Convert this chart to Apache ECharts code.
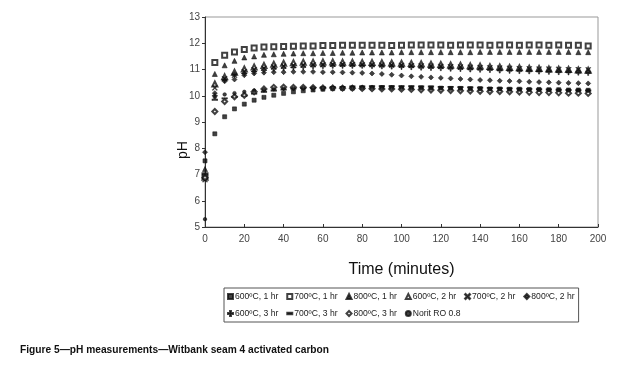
<!DOCTYPE html>
<html>
<head>
<meta charset="utf-8">
<script src="https://cdn.jsdelivr.net/npm/echarts@6/dist/echarts.min.js"></script>
<style>
  html, body { margin: 0; padding: 0; background: #fff; }
  #chart { width: 625px; height: 373px; }
</style>
</head>
<body>
<div id="chart"></div>
<script>
  // time points (minutes)
  var times = [0, 5, 10, 15, 20, 25, 30, 35, 40, 45, 50, 55, 60, 65, 70, 75, 80, 85, 90, 95,
    100, 105, 110, 115, 120, 125, 130, 135, 140, 145, 150, 155, 160, 165, 170, 175, 180, 185, 190, 195];

  var yTicks = [5, 6, 7, 8, 9, 10, 11, 12, 13];
  var xTicks = [0, 20, 40, 60, 80, 100, 120, 140, 160, 180, 200];

  var names = ['600ºC, 1 hr', '700ºC, 1 hr', '800ºC, 1 hr', '600ºC, 2 hr', '700ºC, 2 hr',
    '800ºC, 2 hr', '600ºC, 3 hr', '700ºC, 3 hr', '800ºC, 3 hr', 'Norit RO 0.8'];

  var c600h1 = [7.52, 8.55, 9.2, 9.5, 9.68, 9.83, 9.94, 10.02, 10.09, 10.15, 10.19, 10.22, 10.25, 10.27, 10.28, 10.29, 10.3, 10.3, 10.31, 10.31,
    10.3, 10.3, 10.3, 10.29, 10.29, 10.28, 10.28, 10.27, 10.27, 10.26, 10.26, 10.25, 10.25, 10.24, 10.24, 10.23, 10.23, 10.22, 10.22, 10.21];
  var c700h1 = [6.95, 11.27, 11.54, 11.67, 11.76, 11.82, 11.86, 11.87, 11.88, 11.89, 11.9, 11.9, 11.91, 11.91, 11.92, 11.92, 11.92, 11.92, 11.92, 11.91,
    11.92, 11.93, 11.93, 11.93, 11.93, 11.92, 11.93, 11.93, 11.93, 11.92, 11.93, 11.93, 11.92, 11.93, 11.93, 11.92, 11.93, 11.92, 11.92, 11.9];
  var c800h1 = [7.21, 10.83, 11.16, 11.33, 11.46, 11.5, 11.56, 11.58, 11.6, 11.61, 11.62, 11.62, 11.63, 11.63, 11.64, 11.64, 11.65, 11.65, 11.65, 11.65,
    11.66, 11.66, 11.66, 11.66, 11.66, 11.66, 11.66, 11.66, 11.67, 11.67, 11.67, 11.67, 11.67, 11.67, 11.67, 11.67, 11.67, 11.67, 11.66, 11.66];
  var c600h2 = [6.9, 10.45, 10.72, 10.9, 11.02, 11.1, 11.15, 11.2, 11.24, 11.26, 11.28, 11.28, 11.29, 11.29, 11.28, 11.28, 11.27, 11.27, 11.26, 11.25,
    11.24, 11.23, 11.22, 11.2, 11.19, 11.17, 11.16, 11.14, 11.13, 11.11, 11.1, 11.08, 11.07, 11.05, 11.04, 11.02, 11.01, 11.0, 10.98, 10.97];
  var c700h2 = [6.8, 10.3, 10.65, 10.78, 10.92, 11.0, 11.05, 11.1, 11.13, 11.15, 11.17, 11.18, 11.18, 11.19, 11.19, 11.19, 11.18, 11.18, 11.17, 11.17,
    11.16, 11.15, 11.14, 11.13, 11.12, 11.11, 11.1, 11.09, 11.08, 11.07, 11.06, 11.05, 11.04, 11.03, 11.02, 11.02, 11.01, 11.0, 11.0, 10.99];
  var c800h2 = [7.85, 10.1, 10.55, 10.62, 10.78, 10.85, 10.88, 10.9, 10.9, 10.91, 10.91, 10.91, 10.9, 10.9, 10.89, 10.88, 10.87, 10.85, 10.83, 10.8,
    10.77, 10.74, 10.72, 10.7, 10.68, 10.66, 10.64, 10.62, 10.6, 10.59, 10.57, 10.56, 10.55, 10.53, 10.52, 10.51, 10.5, 10.49, 10.48, 10.47];
  var c600h3 = [6.85, 10.0, 10.6, 10.8, 10.85, 10.92, 10.98, 11.03, 11.06, 11.08, 11.1, 11.12, 11.13, 11.14, 11.14, 11.14, 11.14, 11.13, 11.12, 11.11,
    11.1, 11.09, 11.07, 11.06, 11.05, 11.03, 11.02, 11.0, 10.99, 10.98, 10.96, 10.95, 10.94, 10.93, 10.92, 10.91, 10.9, 10.89, 10.88, 10.87];
  var c700h3 = [7.0, 9.85, 9.9, 9.95, 10.0, 10.08, 10.15, 10.2, 10.24, 10.27, 10.29, 10.3, 10.32, 10.33, 10.34, 10.35, 10.35, 10.36, 10.36, 10.36,
    10.36, 10.36, 10.35, 10.35, 10.34, 10.34, 10.33, 10.32, 10.31, 10.3, 10.29, 10.28, 10.27, 10.26, 10.25, 10.24, 10.23, 10.22, 10.21, 10.2];
  var c800h3 = [6.88, 9.4, 9.78, 9.96, 10.02, 10.15, 10.26, 10.32, 10.33, 10.32, 10.32, 10.31, 10.3, 10.3, 10.29, 10.29, 10.28, 10.27, 10.26, 10.26,
    10.25, 10.24, 10.23, 10.22, 10.21, 10.2, 10.19, 10.18, 10.17, 10.16, 10.16, 10.15, 10.14, 10.13, 10.12, 10.12, 10.11, 10.1, 10.1, 10.09];
  var norit = [5.3, 9.95, 10.05, 10.1, 10.15, 10.2, 10.22, 10.25, 10.27, 10.28, 10.29, 10.3, 10.3, 10.31, 10.31, 10.31, 10.31, 10.31, 10.3, 10.3,
    10.3, 10.29, 10.29, 10.28, 10.28, 10.27, 10.27, 10.26, 10.26, 10.25, 10.25, 10.24, 10.24, 10.23, 10.23, 10.22, 10.22, 10.21, 10.21, 10.2];

  var allData = [c600h1, c700h1, c800h1, c600h2, c700h2, c800h2, c600h3, c700h3, c800h3, norit];

  // marker shapes
  var plusPath = 'path://M4,0H6V4H10V6H6V10H4V6H0V4H4Z';
  var crossPath = 'path://M1,0L5,4L9,0L10,1L6,5L10,9L9,10L5,6L1,10L0,9L4,5L0,1Z';
  var dashPath = 'path://M0,0H10V3H0Z';
  var symbols = ['rect', 'emptyRect', 'triangle', 'emptyTriangle', crossPath,
    'diamond', plusPath, dashPath, 'emptyDiamond', 'circle'];
  var sizes = [4, 5, 5, 5, 5, 5, 5, [5, 1.5], 5, 3.5];

  var font = "'Liberation Sans', Arial, sans-serif";

  function makeSeries() {
    var arr = [];
    for (var i = 0; i < allData.length; i++) {
      var pts = [];
      for (var j = 0; j < times.length; j++) {
        pts.push([times[j], allData[i][j]]);
      }
      arr.push({
        name: names[i],
        type: 'scatter',
        data: pts,
        symbol: symbols[i],
        symbolSize: sizes[i],
        itemStyle: { color: '#111', borderColor: '#111', borderWidth: 0.7 },
        emphasis: { disabled: true },
        animation: false
      });
    }
    return arr;
  }

  var myChart = echarts.init(document.getElementById('chart'));

  myChart.setOption({
    backgroundColor: '#fff',
    animation: false,
    grid: {
      left: 205, right: 27, top: 17, bottom: 146,
      show: true, borderColor: '#999', borderWidth: 1
    },
    legend: {
      data: names,
      left: 224, top: 288, width: 358,
      orient: 'horizontal',
      itemWidth: 5, itemHeight: 5, itemGap: 8,
      padding: [4, 4, 4, 3],
      borderColor: '#555', borderWidth: 1,
      textStyle: { fontSize: 8.6, color: '#222', fontFamily: font, padding: [0, 0, 0, -3] },
      selectedMode: false
    },
    xAxis: {
      type: 'value',
      min: 0, max: 200, interval: 20,
      name: 'Time (minutes)',
      nameLocation: 'middle',
      nameGap: 35,
      nameTextStyle: { fontSize: 16, color: '#111', fontFamily: font },
      axisLine: { lineStyle: { color: '#333', width: 1 } },
      axisTick: { inside: true, length: 3, lineStyle: { color: '#333' } },
      axisLabel: { fontSize: 10, color: '#444', margin: 7, fontFamily: font },
      splitLine: { show: false }
    },
    yAxis: {
      type: 'value',
      min: 5, max: 13, interval: 1,
      axisLine: { show: true, lineStyle: { color: '#333', width: 1 } },
      axisTick: { show: true, inside: false, length: 3, lineStyle: { color: '#333' } },
      axisLabel: { fontSize: 10, color: '#444', margin: 5, fontFamily: font },
      splitLine: { show: false }
    },
    graphic: [{
      type: 'text',
      x: 183,
      y: 150,
      rotation: Math.PI / 2,
      style: {
        text: 'pH',
        fontSize: 14,
        fill: '#111',
        align: 'center',
        verticalAlign: 'middle',
        fontFamily: font
      }
    }, {
      type: 'text',
      left: 20,
      top: 345,
      style: {
        text: 'Figure 5—pH measurements—Witbank seam 4 activated carbon',
        fontSize: 10.2,
        fontWeight: 'bold',
        fill: '#111',
        fontFamily: font
      }
    }],
    series: makeSeries()
  });
</script>
</body>
</html>
